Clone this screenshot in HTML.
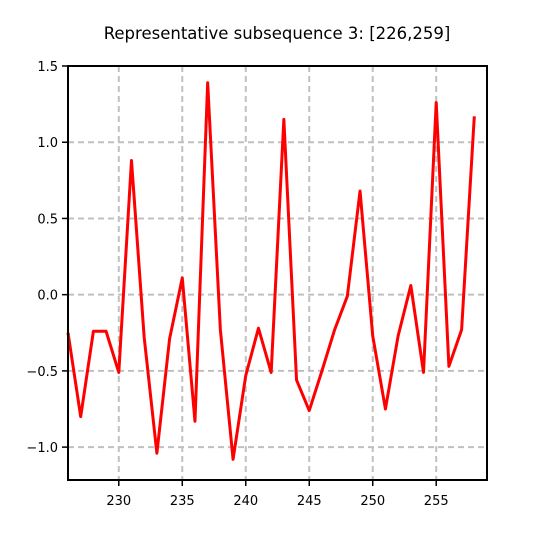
<!DOCTYPE html>
<html><head><meta charset="utf-8"><style>
body{margin:0;background:#fff;}
svg text{font-family:"DejaVu Sans","Liberation Sans",sans-serif;}
</style></head><body>
<svg id="chart" width="540" height="540" viewBox="0 0 540 540" xmlns="http://www.w3.org/2000/svg">
<rect width="540" height="540" fill="#fff"/>
<text x="277" y="39" font-size="16.5" text-anchor="middle" fill="#000">Representative subsequence 3: [226,259]</text>
<g id="grid"></g><g id="series"></g><g id="axes"></g>
</svg>
<script>
const xValues=[226,227,228,229,230,231,232,233,234,235,236,237,238,239,240,241,242,243,244,245,246,247,248,249,250,251,252,253,254,255,256,257,258];
const yValues=[-0.25,-0.80,-0.24,-0.24,-0.51,0.88,-0.28,-1.04,-0.29,0.11,-0.83,1.39,-0.23,-1.08,-0.53,-0.22,-0.51,1.15,-0.56,-0.76,-0.50,-0.23,-0.01,0.68,-0.27,-0.75,-0.27,0.06,-0.51,1.26,-0.47,-0.23,1.17];
const xTicks=[230,235,240,245,250,255];
const yTicks=[1.5,1.0,0.5,0.0,-0.5,-1.0];
const yTickLabels=["1.5","1.0","0.5","0.0","\u22120.5","\u22121.0"];
const L=68,R=487,T=66,B=480,xMin=226,xMax=259,yMin=-1.2157,yMax=1.5;
const sx=v=>L+(v-xMin)/(xMax-xMin)*(R-L);
const sy=v=>B-(v-yMin)/(yMax-yMin)*(B-T);
const NS="http://www.w3.org/2000/svg";
function mk(t,a,p){const e=document.createElementNS(NS,t);for(const k in a)e.setAttribute(k,a[k]);p.appendChild(e);return e;}
const grid=document.getElementById('grid'),axes=document.getElementById('axes'),series=document.getElementById('series');
xTicks.forEach(v=>{const x=sx(v);
 const g=mk('line',{x1:x,x2:x,y1:T,y2:B,stroke:'#c0c0c0','stroke-width':2,'stroke-dasharray':'6,4'},grid);
 
 
 const t=mk('line',{x1:x,x2:x,y1:B,y2:B+6,stroke:'#000','stroke-width':1.5},axes);
 
 
 const l=mk('text',{x:x,y:B+25,'font-size':13,'text-anchor':'middle',fill:'#000'},axes);l.textContent=v;
 
 
});
yTicks.forEach((v,i)=>{const y=sy(v);
 const g=mk('line',{x1:L,x2:R,y1:y,y2:y,stroke:'#c0c0c0','stroke-width':2,'stroke-dasharray':'6,4'},grid);
 
 
 const t=mk('line',{x1:L-6,x2:L,y1:y,y2:y,stroke:'#000','stroke-width':1.5},axes);
 
 
 const l=mk('text',{x:L-10,y:y+5,'font-size':13,'text-anchor':'end',fill:'#000'},axes);l.textContent=yTickLabels[i];
 
 
});
const pl=mk('polyline',{points:xValues.map((x,i)=>sx(x)+','+sy(yValues[i])).join(' '),fill:'none',stroke:'#ff0000','stroke-width':3,'stroke-linejoin':'round'},series);


const fr=mk('rect',{x:L,y:T,width:R-L,height:B-T,fill:'none',stroke:'#000','stroke-width':2},axes);


</script>
</body></html>
